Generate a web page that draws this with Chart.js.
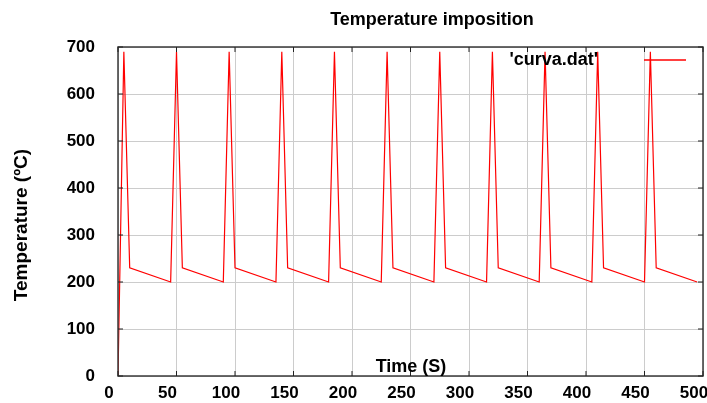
<!DOCTYPE html>
<html>
<head>
<meta charset="utf-8">
<title>Temperature imposition</title>
<script src="https://cdn.jsdelivr.net/npm/chart.js@4.4.0/dist/chart.umd.min.js"></script>
<style>
  html, body { margin: 0; padding: 0; background: #fff; }
  #wrap { width: 707px; height: 403px; }
</style>
</head>
<body>
<div id="wrap"><canvas id="chart" width="707" height="403"></canvas></div>
<script>
// data (time in s, temperature in ºC)
const timeValues = [0, 5, 10, 45, 50, 55, 90, 95, 100, 135, 140, 145, 180, 185, 190, 225,
  230, 235, 270, 275, 280, 315, 320, 325, 360, 365, 370, 405, 410, 415, 450, 455, 460, 495];
const tempValues = [0, 690, 230, 200, 690, 230, 200, 690, 230, 200, 690, 230, 200, 690, 230, 200,
  690, 230, 200, 690, 230, 200, 690, 230, 200, 690, 230, 200, 690, 230, 200, 690, 230, 200];
const xTicks = [0, 50, 100, 150, 200, 250, 300, 350, 400, 450, 500];
const yTicks = [0, 100, 200, 300, 400, 500, 600, 700];
const chartTitle = 'Temperature imposition';
const xTitle = 'Time (S)';
const yTitle = 'Temperature (ºC)';
const seriesLabel = "'curva.dat'";

const FONT = 'Liberation Sans, Arial, sans-serif';
const lineColor = '#ff0000';

const points = timeValues.map((t, i) => ({ x: t, y: tempValues[i] }));

// gnuplot style frame, inward ticks and the texts
const gnuplotDecor = {
  id: 'gnuplotDecor',
  afterDraw(chart) {
    const ctx = chart.ctx;
    const area = chart.chartArea;
    const xs = chart.scales.x;
    const ys = chart.scales.y;
    ctx.save();

    // frame
    ctx.strokeStyle = '#3a3a3a';
    ctx.lineWidth = 1.5;
    ctx.strokeRect(area.left, area.top, area.right - area.left, area.bottom - area.top);

    // inward ticks on all sides
    ctx.lineWidth = 1;
    ctx.strokeStyle = '#222';
    ctx.beginPath();
    xTicks.forEach(v => {
      const px = xs.getPixelForValue(v);
      ctx.moveTo(px, area.bottom); ctx.lineTo(px, area.bottom - 5);
      ctx.moveTo(px, area.top); ctx.lineTo(px, area.top + 5);
    });
    yTicks.forEach(v => {
      const py = ys.getPixelForValue(v);
      ctx.moveTo(area.left, py); ctx.lineTo(area.left + 5, py);
      ctx.moveTo(area.right, py); ctx.lineTo(area.right - 5, py);
    });
    ctx.stroke();

    ctx.fillStyle = '#000';
    ctx.textBaseline = 'middle';

    // title
    ctx.font = 'bold 18px ' + FONT;
    ctx.textAlign = 'center';
    ctx.fillText(chartTitle, 432, 20);

    // x axis title sits inside the plot, just above the axis
    ctx.fillText(xTitle, 411, 367);

    // y axis title
    ctx.save();
    ctx.font = 'bold 19px ' + FONT;
    ctx.translate(22, 225);
    ctx.rotate(-Math.PI / 2);
    ctx.fillText(yTitle, 0, 0);
    ctx.restore();

    // key
    ctx.textAlign = 'right';
    ctx.fillText(seriesLabel, 598, 60);
    ctx.strokeStyle = lineColor;
    ctx.lineWidth = 1.5;
    ctx.beginPath();
    ctx.moveTo(644, 60);
    ctx.lineTo(686, 60);
    ctx.stroke();

    ctx.restore();
  }
};

new Chart(document.getElementById('chart'), {
  type: 'line',
  data: {
    datasets: [{
      label: seriesLabel,
      data: points,
      borderColor: lineColor,
      borderWidth: 1.2,
      pointRadius: 0,
      tension: 0,
      fill: false
    }]
  },
  options: {
    responsive: false,
    animation: false,
    events: [],
    layout: { autoPadding: false, padding: { top: 47, right: 4, left: 0, bottom: 0 } },
    plugins: {
      legend: { display: false },
      title: { display: false },
      tooltip: { enabled: false }
    },
    scales: {
      x: {
        type: 'linear',
        min: 0,
        max: 500,
        afterBuildTicks: s => { s.ticks = xTicks.map(v => ({ value: v })); },
        afterFit: s => {
          s.height = 27;
          s.paddingLeft = 0; s.paddingRight = 0;
        },
        grid: { color: '#cccccc', lineWidth: 1, drawTicks: false },
        border: { display: false },
        ticks: {
          autoSkip: false,
          maxRotation: 0,
          padding: 7,
          labelOffset: -9,
          color: '#000',
          font: { family: FONT, size: 17, weight: 'bold' }
        }
      },
      y: {
        type: 'linear',
        min: 0,
        max: 700,
        afterBuildTicks: s => { s.ticks = yTicks.map(v => ({ value: v })); },
        afterFit: s => {
          s.width = 118;
          s.paddingTop = 0; s.paddingBottom = 0;
        },
        grid: { color: '#cccccc', lineWidth: 1, drawTicks: false },
        border: { display: false },
        ticks: {
          padding: 23,
          color: '#000',
          font: { family: FONT, size: 17, weight: 'bold' }
        }
      }
    }
  },
  plugins: [gnuplotDecor]
});
</script>
</body>
</html>
